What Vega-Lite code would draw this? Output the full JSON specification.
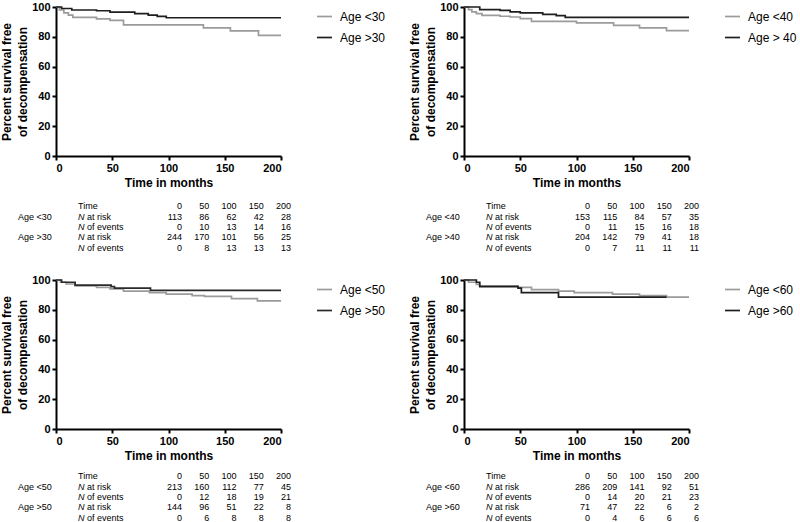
{
  "$schema": "https://vega.github.io/schema/vega-lite/v6.json",
  "padding": {"top": 1, "left": 0, "right": 0, "bottom": 0},
  "background": "white",
  "config": {
    "view": {"stroke": null},
    "axis": {"grid": false, "domainColor": "#000", "domainWidth": 2, "tickColor": "#000", "tickWidth": 2, "tickSize": 4, "labelFont": "Liberation Sans", "labelFontSize": 11, "labelFontWeight": "bold", "labelColor": "#000", "labelPadding": 2, "titleFont": "Liberation Sans", "titleFontSize": 12, "titleFontWeight": "bold", "titleColor": "#000"},
    "axisX": {"titlePadding": 4},
    "axisY": {"titlePadding": 2, "titleLineHeight": 16},
    "legend": {"orient": "right", "offset": 30, "labelFont": "Liberation Sans", "labelFontSize": 12, "labelColor": "#000", "symbolType": "stroke", "symbolSize": 225, "symbolStrokeWidth": 1.7, "labelOffset": 7, "rowPadding": 6, "padding": 1},
    "text": {"font": "Liberation Sans", "fontSize": 9, "color": "#000", "baseline": "middle"},
    "line": {"strokeWidth": 1.7}
  },
  "datasets": {
    "km": [
      {"p": "A", "g": "Age <30", "t": 0, "s": 100}, {"p": "A", "g": "Age <30", "t": 3, "s": 98}, {"p": "A", "g": "Age <30", "t": 7, "s": 96}, {"p": "A", "g": "Age <30", "t": 11, "s": 94.5}, {"p": "A", "g": "Age <30", "t": 15, "s": 93}, {"p": "A", "g": "Age <30", "t": 36, "s": 92}, {"p": "A", "g": "Age <30", "t": 48, "s": 91}, {"p": "A", "g": "Age <30", "t": 60, "s": 88}, {"p": "A", "g": "Age <30", "t": 131, "s": 86}, {"p": "A", "g": "Age <30", "t": 155, "s": 84}, {"p": "A", "g": "Age <30", "t": 180, "s": 81}, {"p": "A", "g": "Age <30", "t": 200, "s": 81},
      {"p": "A", "g": "Age >30", "t": 0, "s": 100}, {"p": "A", "g": "Age >30", "t": 5, "s": 99}, {"p": "A", "g": "Age >30", "t": 14, "s": 98}, {"p": "A", "g": "Age >30", "t": 36, "s": 97.5}, {"p": "A", "g": "Age >30", "t": 48, "s": 96.5}, {"p": "A", "g": "Age >30", "t": 70, "s": 95.5}, {"p": "A", "g": "Age >30", "t": 82, "s": 94.5}, {"p": "A", "g": "Age >30", "t": 90, "s": 93.7}, {"p": "A", "g": "Age >30", "t": 98, "s": 92.8}, {"p": "A", "g": "Age >30", "t": 200, "s": 92.8},
      {"p": "B", "g": "Age <40", "t": 0, "s": 100}, {"p": "B", "g": "Age <40", "t": 4, "s": 98.2}, {"p": "B", "g": "Age <40", "t": 7, "s": 96.7}, {"p": "B", "g": "Age <40", "t": 11, "s": 95.5}, {"p": "B", "g": "Age <40", "t": 16, "s": 94.4}, {"p": "B", "g": "Age <40", "t": 32, "s": 93.8}, {"p": "B", "g": "Age <40", "t": 41, "s": 93.3}, {"p": "B", "g": "Age <40", "t": 50, "s": 92.2}, {"p": "B", "g": "Age <40", "t": 60, "s": 90.4}, {"p": "B", "g": "Age <40", "t": 100, "s": 89.3}, {"p": "B", "g": "Age <40", "t": 133, "s": 87.7}, {"p": "B", "g": "Age <40", "t": 156, "s": 86}, {"p": "B", "g": "Age <40", "t": 180, "s": 84.2}, {"p": "B", "g": "Age <40", "t": 200, "s": 84.2},
      {"p": "B", "g": "Age > 40", "t": 0, "s": 100}, {"p": "B", "g": "Age > 40", "t": 14, "s": 98.2}, {"p": "B", "g": "Age > 40", "t": 32, "s": 97.8}, {"p": "B", "g": "Age > 40", "t": 41, "s": 96.7}, {"p": "B", "g": "Age > 40", "t": 50, "s": 96}, {"p": "B", "g": "Age > 40", "t": 70, "s": 95.1}, {"p": "B", "g": "Age > 40", "t": 82, "s": 94.2}, {"p": "B", "g": "Age > 40", "t": 90, "s": 93.1}, {"p": "B", "g": "Age > 40", "t": 200, "s": 93.1},
      {"p": "C", "g": "Age <50", "t": 0, "s": 100}, {"p": "C", "g": "Age <50", "t": 4, "s": 98.5}, {"p": "C", "g": "Age <50", "t": 9, "s": 97.3}, {"p": "C", "g": "Age <50", "t": 17, "s": 96}, {"p": "C", "g": "Age <50", "t": 36, "s": 95}, {"p": "C", "g": "Age <50", "t": 48, "s": 94}, {"p": "C", "g": "Age <50", "t": 60, "s": 92.5}, {"p": "C", "g": "Age <50", "t": 83, "s": 91.5}, {"p": "C", "g": "Age <50", "t": 98, "s": 90.5}, {"p": "C", "g": "Age <50", "t": 121, "s": 89.5}, {"p": "C", "g": "Age <50", "t": 132, "s": 89}, {"p": "C", "g": "Age <50", "t": 156, "s": 87.5}, {"p": "C", "g": "Age <50", "t": 179, "s": 86}, {"p": "C", "g": "Age <50", "t": 200, "s": 86},
      {"p": "C", "g": "Age >50", "t": 0, "s": 100}, {"p": "C", "g": "Age >50", "t": 5, "s": 98.5}, {"p": "C", "g": "Age >50", "t": 17, "s": 96.5}, {"p": "C", "g": "Age >50", "t": 49, "s": 95.6}, {"p": "C", "g": "Age >50", "t": 52, "s": 94.5}, {"p": "C", "g": "Age >50", "t": 84, "s": 93}, {"p": "C", "g": "Age >50", "t": 200, "s": 93},
      {"p": "D", "g": "Age <60", "t": 0, "s": 100}, {"p": "D", "g": "Age <60", "t": 4, "s": 98.5}, {"p": "D", "g": "Age <60", "t": 11, "s": 97}, {"p": "D", "g": "Age <60", "t": 14, "s": 96}, {"p": "D", "g": "Age <60", "t": 48, "s": 95}, {"p": "D", "g": "Age <60", "t": 60, "s": 93.5}, {"p": "D", "g": "Age <60", "t": 84, "s": 92.5}, {"p": "D", "g": "Age <60", "t": 98, "s": 91.5}, {"p": "D", "g": "Age <60", "t": 132, "s": 90.5}, {"p": "D", "g": "Age <60", "t": 156, "s": 89.5}, {"p": "D", "g": "Age <60", "t": 180, "s": 88.5}, {"p": "D", "g": "Age <60", "t": 200, "s": 88.5},
      {"p": "D", "g": "Age >60", "t": 0, "s": 100}, {"p": "D", "g": "Age >60", "t": 11, "s": 98.5}, {"p": "D", "g": "Age >60", "t": 14, "s": 95.6}, {"p": "D", "g": "Age >60", "t": 48, "s": 94.5}, {"p": "D", "g": "Age >60", "t": 51, "s": 91.5}, {"p": "D", "g": "Age >60", "t": 84, "s": 88.5}, {"p": "D", "g": "Age >60", "t": 180, "s": 88.5}
    ],
    "tab": [
      {"p": "A", "r": 0, "g": "", "lab": "Time", "n": "", "rest": "", "t0": "0", "t50": "50", "t100": "100", "t150": "150", "t200": "200"},
      {"p": "A", "r": 1, "g": "Age <30", "lab": "", "n": "N", "rest": "at risk", "t0": "113", "t50": "86", "t100": "62", "t150": "42", "t200": "28"},
      {"p": "A", "r": 2, "g": "", "lab": "", "n": "N", "rest": "of events", "t0": "0", "t50": "10", "t100": "13", "t150": "14", "t200": "16"},
      {"p": "A", "r": 3, "g": "Age >30", "lab": "", "n": "N", "rest": "at risk", "t0": "244", "t50": "170", "t100": "101", "t150": "56", "t200": "25"},
      {"p": "A", "r": 4, "g": "", "lab": "", "n": "N", "rest": "of events", "t0": "0", "t50": "8", "t100": "13", "t150": "13", "t200": "13"},
      {"p": "B", "r": 0, "g": "", "lab": "Time", "n": "", "rest": "", "t0": "0", "t50": "50", "t100": "100", "t150": "150", "t200": "200"},
      {"p": "B", "r": 1, "g": "Age <40", "lab": "", "n": "N", "rest": "at risk", "t0": "153", "t50": "115", "t100": "84", "t150": "57", "t200": "35"},
      {"p": "B", "r": 2, "g": "", "lab": "", "n": "N", "rest": "of events", "t0": "0", "t50": "11", "t100": "15", "t150": "16", "t200": "18"},
      {"p": "B", "r": 3, "g": "Age >40", "lab": "", "n": "N", "rest": "at risk", "t0": "204", "t50": "142", "t100": "79", "t150": "41", "t200": "18"},
      {"p": "B", "r": 4, "g": "", "lab": "", "n": "N", "rest": "of events", "t0": "0", "t50": "7", "t100": "11", "t150": "11", "t200": "11"},
      {"p": "C", "r": 0, "g": "", "lab": "Time", "n": "", "rest": "", "t0": "0", "t50": "50", "t100": "100", "t150": "150", "t200": "200"},
      {"p": "C", "r": 1, "g": "Age <50", "lab": "", "n": "N", "rest": "at risk", "t0": "213", "t50": "160", "t100": "112", "t150": "77", "t200": "45"},
      {"p": "C", "r": 2, "g": "", "lab": "", "n": "N", "rest": "of events", "t0": "0", "t50": "12", "t100": "18", "t150": "19", "t200": "21"},
      {"p": "C", "r": 3, "g": "Age >50", "lab": "", "n": "N", "rest": "at risk", "t0": "144", "t50": "96", "t100": "51", "t150": "22", "t200": "8"},
      {"p": "C", "r": 4, "g": "", "lab": "", "n": "N", "rest": "of events", "t0": "0", "t50": "6", "t100": "8", "t150": "8", "t200": "8"},
      {"p": "D", "r": 0, "g": "", "lab": "Time", "n": "", "rest": "", "t0": "0", "t50": "50", "t100": "100", "t150": "150", "t200": "200"},
      {"p": "D", "r": 1, "g": "Age <60", "lab": "", "n": "N", "rest": "at risk", "t0": "286", "t50": "209", "t100": "141", "t150": "92", "t200": "51"},
      {"p": "D", "r": 2, "g": "", "lab": "", "n": "N", "rest": "of events", "t0": "0", "t50": "14", "t100": "20", "t150": "21", "t200": "23"},
      {"p": "D", "r": 3, "g": "Age >60", "lab": "", "n": "N", "rest": "at risk", "t0": "71", "t50": "47", "t100": "22", "t150": "6", "t200": "2"},
      {"p": "D", "r": 4, "g": "", "lab": "", "n": "N", "rest": "of events", "t0": "0", "t50": "4", "t100": "6", "t150": "6", "t200": "6"}
    ]
  },
  "spacing": 21,
  "resolve": {"scale": {"color": "independent"}, "legend": {"color": "independent"}},
  "vconcat": [
    {"spacing": 21, "resolve": {"scale": {"color": "independent"}, "legend": {"color": "independent"}}, "hconcat": [
      {"spacing": 13, "resolve": {"scale": {"color": "independent"}, "legend": {"color": "independent"}}, "vconcat": [
        {"width": 225, "height": 149, "data": {"name": "km"}, "transform": [{"filter": "datum.p === 'A'"}],
         "mark": {"type": "line", "interpolate": "step-after"},
         "encoding": {
           "x": {"field": "t", "type": "quantitative", "scale": {"domain": [0, 200], "nice": false}, "axis": {"values": [0, 50, 100, 150, 200], "title": "Time in months"}},
           "y": {"field": "s", "type": "quantitative", "scale": {"domain": [0, 100], "nice": false}, "axis": {"values": [0, 20, 40, 60, 80, 100], "title": ["Percent survival free", "of decompensation"]}},
           "color": {"field": "g", "type": "nominal", "scale": {"domain": ["Age <30", "Age >30"], "range": ["#9b9b9b", "#1e1e1e"]}, "legend": {"title": null}}}},
        {"width": 252, "height": 52, "data": {"name": "tab"}, "transform": [{"filter": "datum.p === 'A'"}, {"fold": ["t0", "t50", "t100", "t150", "t200"], "as": ["c", "v"]}],
         "encoding": {"y": {"field": "r", "type": "ordinal", "scale": {"type": "point", "padding": 0.5}, "axis": null}},
         "layer": [
           {"transform": [{"filter": "datum.c === 't0'"}], "mark": {"type": "text", "align": "left", "dx": -55}, "encoding": {"x": {"datum": "l", "type": "ordinal", "scale": {"type": "point", "padding": 0.624, "domain": ["l", "d1", "d2", "d3", "t0", "t50", "t100", "t150", "t200"]}, "axis": null}, "text": {"field": "g"}}},
           {"transform": [{"filter": "datum.c === 't0'"}], "mark": {"type": "text", "align": "left", "dx": 5}, "encoding": {"x": {"datum": "l", "type": "ordinal", "scale": {"type": "point", "padding": 0.624, "domain": ["l", "d1", "d2", "d3", "t0", "t50", "t100", "t150", "t200"]}, "axis": null}, "text": {"field": "lab"}}},
           {"transform": [{"filter": "datum.c === 't0'"}], "mark": {"type": "text", "align": "left", "fontStyle": "italic", "dx": 5}, "encoding": {"x": {"datum": "l", "type": "ordinal", "scale": {"type": "point", "padding": 0.624, "domain": ["l", "d1", "d2", "d3", "t0", "t50", "t100", "t150", "t200"]}, "axis": null}, "text": {"field": "n"}}},
           {"transform": [{"filter": "datum.c === 't0'"}], "mark": {"type": "text", "align": "left", "dx": 14}, "encoding": {"x": {"datum": "l", "type": "ordinal", "scale": {"type": "point", "padding": 0.624, "domain": ["l", "d1", "d2", "d3", "t0", "t50", "t100", "t150", "t200"]}, "axis": null}, "text": {"field": "rest"}}},
           {"mark": {"type": "text", "align": "right"}, "encoding": {"x": {"field": "c", "type": "ordinal", "scale": {"type": "point", "padding": 0.624, "domain": ["l", "d1", "d2", "d3", "t0", "t50", "t100", "t150", "t200"]}, "axis": null}, "text": {"field": "v"}}}
         ]}
      ]},
      {"spacing": 13, "resolve": {"scale": {"color": "independent"}, "legend": {"color": "independent"}}, "vconcat": [
        {"width": 225, "height": 149, "data": {"name": "km"}, "transform": [{"filter": "datum.p === 'B'"}],
         "mark": {"type": "line", "interpolate": "step-after"},
         "encoding": {
           "x": {"field": "t", "type": "quantitative", "scale": {"domain": [0, 200], "nice": false}, "axis": {"values": [0, 50, 100, 150, 200], "title": "Time in months"}},
           "y": {"field": "s", "type": "quantitative", "scale": {"domain": [0, 100], "nice": false}, "axis": {"values": [0, 20, 40, 60, 80, 100], "title": ["Percent survival free", "of decompensation"]}},
           "color": {"field": "g", "type": "nominal", "scale": {"domain": ["Age <40", "Age > 40"], "range": ["#9b9b9b", "#1e1e1e"]}, "legend": {"title": null}}}},
        {"width": 252, "height": 52, "data": {"name": "tab"}, "transform": [{"filter": "datum.p === 'B'"}, {"fold": ["t0", "t50", "t100", "t150", "t200"], "as": ["c", "v"]}],
         "encoding": {"y": {"field": "r", "type": "ordinal", "scale": {"type": "point", "padding": 0.5}, "axis": null}},
         "layer": [
           {"transform": [{"filter": "datum.c === 't0'"}], "mark": {"type": "text", "align": "left", "dx": -55}, "encoding": {"x": {"datum": "l", "type": "ordinal", "scale": {"type": "point", "padding": 0.624, "domain": ["l", "d1", "d2", "d3", "t0", "t50", "t100", "t150", "t200"]}, "axis": null}, "text": {"field": "g"}}},
           {"transform": [{"filter": "datum.c === 't0'"}], "mark": {"type": "text", "align": "left", "dx": 5}, "encoding": {"x": {"datum": "l", "type": "ordinal", "scale": {"type": "point", "padding": 0.624, "domain": ["l", "d1", "d2", "d3", "t0", "t50", "t100", "t150", "t200"]}, "axis": null}, "text": {"field": "lab"}}},
           {"transform": [{"filter": "datum.c === 't0'"}], "mark": {"type": "text", "align": "left", "fontStyle": "italic", "dx": 5}, "encoding": {"x": {"datum": "l", "type": "ordinal", "scale": {"type": "point", "padding": 0.624, "domain": ["l", "d1", "d2", "d3", "t0", "t50", "t100", "t150", "t200"]}, "axis": null}, "text": {"field": "n"}}},
           {"transform": [{"filter": "datum.c === 't0'"}], "mark": {"type": "text", "align": "left", "dx": 14}, "encoding": {"x": {"datum": "l", "type": "ordinal", "scale": {"type": "point", "padding": 0.624, "domain": ["l", "d1", "d2", "d3", "t0", "t50", "t100", "t150", "t200"]}, "axis": null}, "text": {"field": "rest"}}},
           {"mark": {"type": "text", "align": "right"}, "encoding": {"x": {"field": "c", "type": "ordinal", "scale": {"type": "point", "padding": 0.624, "domain": ["l", "d1", "d2", "d3", "t0", "t50", "t100", "t150", "t200"]}, "axis": null}, "text": {"field": "v"}}}
         ]}
      ]}
    ]},
    {"spacing": 21, "resolve": {"scale": {"color": "independent"}, "legend": {"color": "independent"}}, "hconcat": [
      {"spacing": 10, "resolve": {"scale": {"color": "independent"}, "legend": {"color": "independent"}}, "vconcat": [
        {"width": 225, "height": 149, "data": {"name": "km"}, "transform": [{"filter": "datum.p === 'C'"}],
         "mark": {"type": "line", "interpolate": "step-after"},
         "encoding": {
           "x": {"field": "t", "type": "quantitative", "scale": {"domain": [0, 200], "nice": false}, "axis": {"values": [0, 50, 100, 150, 200], "title": "Time in months"}},
           "y": {"field": "s", "type": "quantitative", "scale": {"domain": [0, 100], "nice": false}, "axis": {"values": [0, 20, 40, 60, 80, 100], "title": ["Percent survival free", "of decompensation"]}},
           "color": {"field": "g", "type": "nominal", "scale": {"domain": ["Age <50", "Age >50"], "range": ["#9b9b9b", "#2a2a2a"]}, "legend": {"title": null}}}},
        {"width": 252, "height": 52, "data": {"name": "tab"}, "transform": [{"filter": "datum.p === 'C'"}, {"fold": ["t0", "t50", "t100", "t150", "t200"], "as": ["c", "v"]}],
         "encoding": {"y": {"field": "r", "type": "ordinal", "scale": {"type": "point", "padding": 0.5}, "axis": null}},
         "layer": [
           {"transform": [{"filter": "datum.c === 't0'"}], "mark": {"type": "text", "align": "left", "dx": -55}, "encoding": {"x": {"datum": "l", "type": "ordinal", "scale": {"type": "point", "padding": 0.624, "domain": ["l", "d1", "d2", "d3", "t0", "t50", "t100", "t150", "t200"]}, "axis": null}, "text": {"field": "g"}}},
           {"transform": [{"filter": "datum.c === 't0'"}], "mark": {"type": "text", "align": "left", "dx": 5}, "encoding": {"x": {"datum": "l", "type": "ordinal", "scale": {"type": "point", "padding": 0.624, "domain": ["l", "d1", "d2", "d3", "t0", "t50", "t100", "t150", "t200"]}, "axis": null}, "text": {"field": "lab"}}},
           {"transform": [{"filter": "datum.c === 't0'"}], "mark": {"type": "text", "align": "left", "fontStyle": "italic", "dx": 5}, "encoding": {"x": {"datum": "l", "type": "ordinal", "scale": {"type": "point", "padding": 0.624, "domain": ["l", "d1", "d2", "d3", "t0", "t50", "t100", "t150", "t200"]}, "axis": null}, "text": {"field": "n"}}},
           {"transform": [{"filter": "datum.c === 't0'"}], "mark": {"type": "text", "align": "left", "dx": 14}, "encoding": {"x": {"datum": "l", "type": "ordinal", "scale": {"type": "point", "padding": 0.624, "domain": ["l", "d1", "d2", "d3", "t0", "t50", "t100", "t150", "t200"]}, "axis": null}, "text": {"field": "rest"}}},
           {"mark": {"type": "text", "align": "right"}, "encoding": {"x": {"field": "c", "type": "ordinal", "scale": {"type": "point", "padding": 0.624, "domain": ["l", "d1", "d2", "d3", "t0", "t50", "t100", "t150", "t200"]}, "axis": null}, "text": {"field": "v"}}}
         ]}
      ]},
      {"spacing": 10, "resolve": {"scale": {"color": "independent"}, "legend": {"color": "independent"}}, "vconcat": [
        {"width": 225, "height": 149, "data": {"name": "km"}, "transform": [{"filter": "datum.p === 'D'"}],
         "mark": {"type": "line", "interpolate": "step-after"},
         "encoding": {
           "x": {"field": "t", "type": "quantitative", "scale": {"domain": [0, 200], "nice": false}, "axis": {"values": [0, 50, 100, 150, 200], "title": "Time in months"}},
           "y": {"field": "s", "type": "quantitative", "scale": {"domain": [0, 100], "nice": false}, "axis": {"values": [0, 20, 40, 60, 80, 100], "title": ["Percent survival free", "of decompensation"]}},
           "color": {"field": "g", "type": "nominal", "scale": {"domain": ["Age <60", "Age >60"], "range": ["#9b9b9b", "#1e1e1e"]}, "legend": {"title": null}}}},
        {"width": 252, "height": 52, "data": {"name": "tab"}, "transform": [{"filter": "datum.p === 'D'"}, {"fold": ["t0", "t50", "t100", "t150", "t200"], "as": ["c", "v"]}],
         "encoding": {"y": {"field": "r", "type": "ordinal", "scale": {"type": "point", "padding": 0.5}, "axis": null}},
         "layer": [
           {"transform": [{"filter": "datum.c === 't0'"}], "mark": {"type": "text", "align": "left", "dx": -55}, "encoding": {"x": {"datum": "l", "type": "ordinal", "scale": {"type": "point", "padding": 0.624, "domain": ["l", "d1", "d2", "d3", "t0", "t50", "t100", "t150", "t200"]}, "axis": null}, "text": {"field": "g"}}},
           {"transform": [{"filter": "datum.c === 't0'"}], "mark": {"type": "text", "align": "left", "dx": 5}, "encoding": {"x": {"datum": "l", "type": "ordinal", "scale": {"type": "point", "padding": 0.624, "domain": ["l", "d1", "d2", "d3", "t0", "t50", "t100", "t150", "t200"]}, "axis": null}, "text": {"field": "lab"}}},
           {"transform": [{"filter": "datum.c === 't0'"}], "mark": {"type": "text", "align": "left", "fontStyle": "italic", "dx": 5}, "encoding": {"x": {"datum": "l", "type": "ordinal", "scale": {"type": "point", "padding": 0.624, "domain": ["l", "d1", "d2", "d3", "t0", "t50", "t100", "t150", "t200"]}, "axis": null}, "text": {"field": "n"}}},
           {"transform": [{"filter": "datum.c === 't0'"}], "mark": {"type": "text", "align": "left", "dx": 14}, "encoding": {"x": {"datum": "l", "type": "ordinal", "scale": {"type": "point", "padding": 0.624, "domain": ["l", "d1", "d2", "d3", "t0", "t50", "t100", "t150", "t200"]}, "axis": null}, "text": {"field": "rest"}}},
           {"mark": {"type": "text", "align": "right"}, "encoding": {"x": {"field": "c", "type": "ordinal", "scale": {"type": "point", "padding": 0.624, "domain": ["l", "d1", "d2", "d3", "t0", "t50", "t100", "t150", "t200"]}, "axis": null}, "text": {"field": "v"}}}
         ]}
      ]}
    ]}
  ]
}
